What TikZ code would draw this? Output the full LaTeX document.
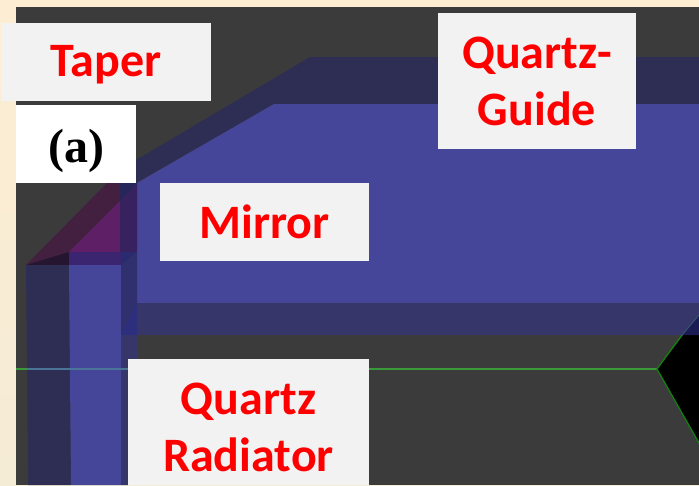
\documentclass[tikz,border=0pt]{standalone}
\usepackage{fontspec}
\setmainfont{Carlito}
\newfontfamily\serifbold{Liberation Serif}
\definecolor{creamtop}{HTML}{FDEDD3}
\definecolor{creambot}{HTML}{F5ECD6}
\definecolor{bgdark}{HTML}{3B3B3B}
\definecolor{blueface}{HTML}{45459A}
\definecolor{darkface}{HTML}{2E2E55}
\definecolor{lowface}{HTML}{36366A}
\definecolor{sideface}{HTML}{30306E}
\definecolor{sidetri}{HTML}{2E2E7E}
\definecolor{mirrordark}{HTML}{43203F}
\definecolor{mirrorlight}{HTML}{5F1F66}
\definecolor{mirrorside}{HTML}{38215F}
\definecolor{mirrortop}{HTML}{26265A}
\definecolor{striptop}{HTML}{3C2570}
\definecolor{stripside}{HTML}{2A2A70}
\definecolor{cornerdark}{HTML}{251530}
\definecolor{navy}{HTML}{1B1B55}
\definecolor{boxgrey}{HTML}{F2F2F2}
\definecolor{linegreen}{HTML}{3A9A3A}
\definecolor{edgegreen}{HTML}{108010}
\definecolor{lineblue}{HTML}{4A7599}
\tikzset{
  x=1pt,y=-1pt,
  labelbox/.style={fill=boxgrey,draw=none,inner sep=0pt,text=red,align=center,
    font=\fontsize{48}{57}\selectfont\bfseries}
}
\begin{document}
\begin{tikzpicture}
\useasboundingbox (0,0) rectangle (699,485);
\shade[top color=creamtop,bottom color=creambot,draw=none] (0,0) rectangle (699,485);
\fill[bgdark] (16,7) rectangle (699,485);
% black hexagon
\fill[black] (657,369) -- (699,315) -- (699,443) -- cycle;
% quartz guide
\fill[darkface] (310,57) -- (699,57) -- (699,104) -- (274,104) -- (136,183) -- (136,160) -- cycle;
\fill[blueface] (274,104) -- (699,104) -- (699,303) -- (137,303) -- (137,183) -- cycle;
\fill[lowface] (137,303) -- (699,303) -- (699,335) -- (137,335) -- cycle;
\fill[navy] (682,335) -- (699,315) -- (699,335) -- cycle;
% mirror
\fill[mirrordark] (26,265) -- (107,183) -- (120,183) -- (120,201) -- (69,252) -- cycle;
\fill[mirrorlight] (69,252) -- (120,201) -- (120,252) -- cycle;
\fill[mirrorside] (120,201) -- (137,183) -- (137,252) -- (120,252) -- cycle;
\fill[mirrortop] (120,183) -- (137,183) -- (120,201) -- cycle;
% radiator
\fill[cornerdark] (26,265) -- (69,252) -- (69,265) -- cycle;
\fill[striptop] (69,252) -- (121,252) -- (121,265) -- (69,265) -- cycle;
\fill[stripside] (121,252) -- (137,252) -- (121,265) -- cycle;
\fill[darkface] (26,265) -- (69,265) -- (71,485) -- (28,485) -- cycle;
\fill[blueface] (69,265) -- (121,265) -- (121,485) -- (71,485) -- cycle;
\fill[sideface] (121,265) -- (137,252) -- (137,303) -- (121,335) -- cycle;
\fill[sidetri] (137,303) -- (137,335) -- (121,335) -- cycle;
\fill[lowface] (121,335) -- (138,335) -- (138,359) -- (128,359) -- (128,485) -- (121,485) -- cycle;
% green edges
\coordinate (gl) at (16,369);
\coordinate (gr) at (26.5,369);
\coordinate (gm) at (128,369);
\coordinate (ge) at (657,369);
\coordinate (gu) at (699,315);
\coordinate (gd) at (699,443);
\coordinate (gb) at (682,335);
\draw[linegreen,line width=1.3] (gl) -- (gr);
\draw[lineblue,line width=1.3] (gr) -- (gm);
\draw[linegreen,line width=1.3] (gm) -- (ge);
\draw[edgegreen,line width=1.3] (gd) -- (ge) -- (gb);
\draw[lineblue!70!black,line width=1.1] (gb) -- (gu);
% labels
\node[labelbox,minimum width=210,minimum height=78] (taper) at (106,62) {\raisebox{0pt}[38pt][9pt]{Taper}};
\node[fill=white,inner sep=0pt,minimum width=120,minimum height=78,
  font=\fontsize{48}{54}\serifbold\bfseries] (a) at (76,144) {\raisebox{0pt}[47pt][11pt]{(a)}};
\node[labelbox,minimum width=198,minimum height=136] (guide) at (537,81) {Quartz-\\Guide};
\node[labelbox,minimum width=209,minimum height=78] (mirror) at (264.5,222) {Mirror};
\node[labelbox,minimum width=241,minimum height=126] (radiator) at (248.5,422) {Quartz\rule{0pt}{43pt}\\Radiator};
\end{tikzpicture}
\end{document}
